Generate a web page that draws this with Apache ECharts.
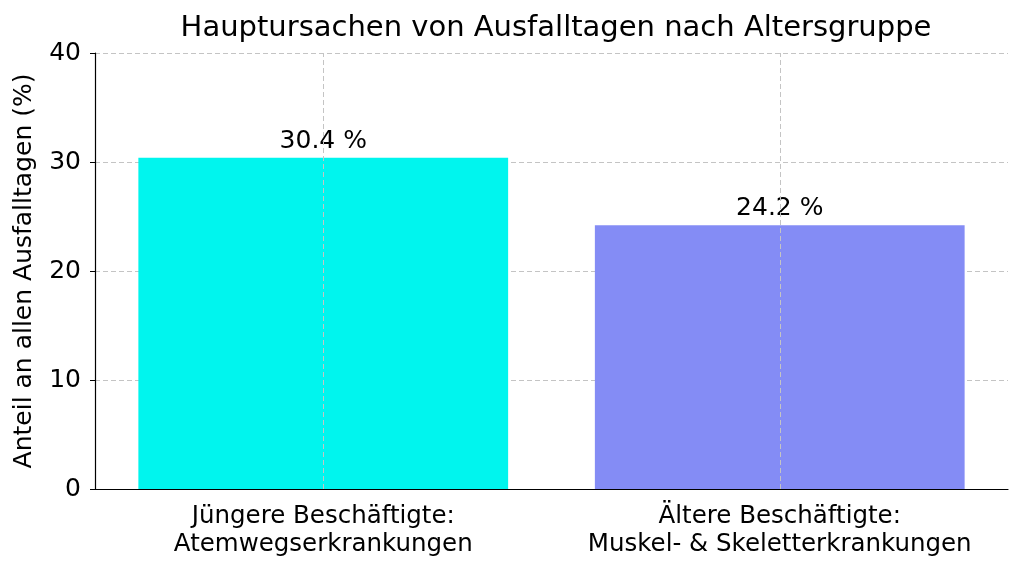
<!DOCTYPE html>
<html>
<head>
<meta charset="utf-8">
<script src="https://cdn.jsdelivr.net/npm/echarts@6/dist/echarts.min.js"></script>
<style>
  html, body { margin: 0; padding: 0; background: #fff; }
  #chart1 { width: 1024px; height: 576px; }
</style>
</head>
<body>
<div id="chart1"></div>
<script>
var categories = ['Jüngere Beschäftigte:\nAtemwegserkrankungen', 'Ältere Beschäftigte:\nMuskel- & Skeletterkrankungen'];
var values = [30.4, 24.2];
var barColors = ['#00F5EE', '#848CF5'];
var yTicks = [0, 10, 20, 30, 40];

var dom = document.getElementById('chart1');
var myChart = echarts.init(dom);
var fontFamily = 'DejaVu Sans';

var option = {
  animation: false,
  textStyle: { fontFamily: fontFamily },
  title: {
    text: 'Hauptursachen von Ausfalltagen nach Altersgruppe',
    left: 551,
    top: 9,
    textAlign: 'center',
    textStyle: { fontSize: 29, fontWeight: 'normal', color: '#000', fontFamily: fontFamily }
  },
  grid: { left: 95, right: 16, top: 53, bottom: 87 },
  xAxis: {
    type: 'category',
    data: categories,
    axisLine: { lineStyle: { color: '#000', width: 1.2 } },
    axisTick: { alignWithLabel: true, length: 5, lineStyle: { color: '#000' } },
    axisLabel: { interval: 0, hideOverlap: false, fontSize: 24.5, color: '#000', margin: 14, lineHeight: 28, fontFamily: fontFamily },
    splitLine: { show: false }
  },
  yAxis: {
    type: 'value',
    min: yTicks[0],
    max: yTicks[yTicks.length - 1],
    interval: 10,
    name: 'Anteil an allen Ausfalltagen (%)',
    nameLocation: 'middle',
    nameGap: 58,
    nameTextStyle: { fontSize: 25, color: '#000', fontFamily: fontFamily },
    axisLine: { show: true, lineStyle: { color: '#000', width: 1.2 } },
    axisTick: { show: true, length: 5, lineStyle: { color: '#000' } },
    axisLabel: { fontSize: 25, color: '#000', margin: 14, fontFamily: fontFamily },
    splitLine: { show: true, lineStyle: { color: '#c4c4c4', type: [5, 3], width: 1 } }
  },
  series: [
    {
      type: 'bar',
      barCategoryGap: '19%',
      data: values.map(function (v, i) {
        return { value: v, itemStyle: { color: barColors[i] } };
      }),
      label: {
        show: true,
        position: 'top',
        distance: 4,
        fontSize: 25,
        color: '#000',
        fontFamily: fontFamily,
        formatter: function (p) { return p.value.toFixed(1) + ' %'; }
      },
      markLine: {
        silent: true,
        symbol: 'none',
        label: { show: false },
        z: 5,
        lineStyle: { color: '#c4c4c4', type: [5, 3], width: 1 },
        data: categories.map(function (c) { return { xAxis: c }; })
      }
    }
  ]
};

myChart.setOption(option);
</script>
</body>
</html>
